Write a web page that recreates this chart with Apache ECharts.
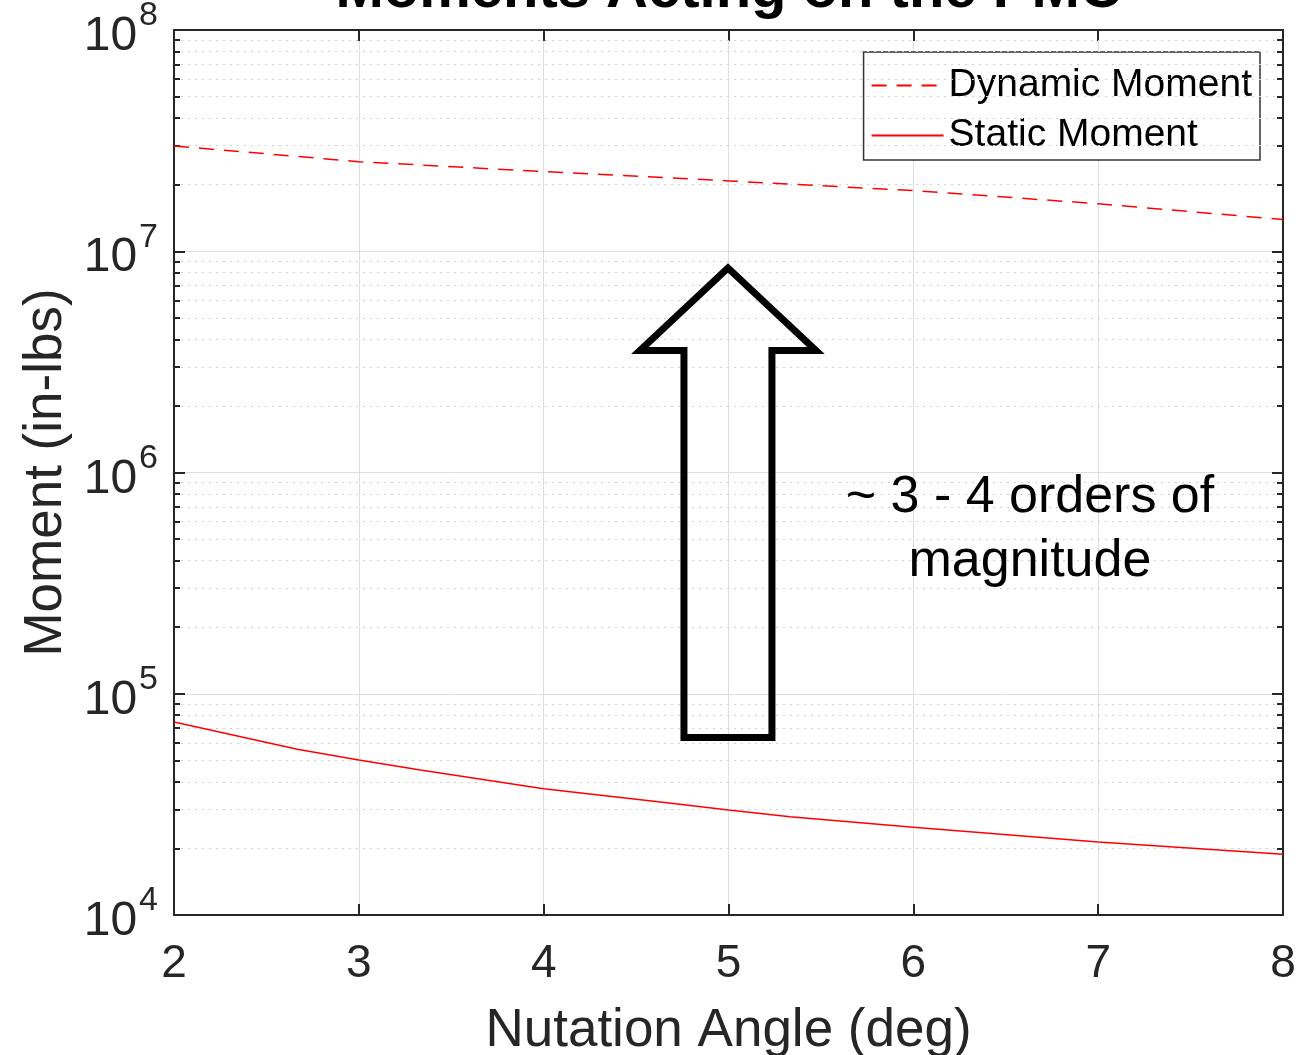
<!DOCTYPE html>
<html>
<head>
<meta charset="utf-8">
<script src="https://cdn.jsdelivr.net/npm/echarts@6/dist/echarts.min.js"></script>
<style>
html,body{margin:0;padding:0;background:#fff;}
#chart{width:1312px;height:1055px;}
</style>
</head>
<body>
<div id="chart"></div>
<script>
// ---- data ----
const dynamicAngles = [2, 3, 4, 5, 6, 7, 8];
const dynamicMoment = [2.99e7, 2.54e7, 2.29e7, 2.08e7, 1.88e7, 1.64e7, 1.39e7];
const staticAngles = [2, 2.667, 3, 3.333, 4, 4.667, 5, 5.333, 6, 7, 8];
const staticMoment = [7.45e4, 5.61e4, 5.02e4, 4.52e4, 3.72e4, 3.22e4, 2.98e4, 2.78e4, 2.49e4, 2.14e4, 1.88e4];
const xTicks = [2, 3, 4, 5, 6, 7, 8];
const yDecades = [4, 5, 6, 7, 8];
const titleText = 'Moments Acting on the PMC';
const xName = 'Nutation Angle (deg)';
const yName = 'Moment (in-lbs)';
const seriesNames = ['Dynamic Moment', 'Static Moment'];
const noteText = '~ 3 - 4 orders of\nmagnitude';

// ---- chart ----
const FONT = '"Liberation Sans", Arial, Helvetica, sans-serif';
const AX = '#262626';
const xMin = 2, xMax = 8;
const chart = echarts.init(document.getElementById('chart'), null, {renderer: 'canvas'});

function pairs(xs, ys) { return xs.map((x, i) => [x, ys[i]]); }

// minor log ticks / grid (2..9 x 10^d)
const minorVals = [];
for (let d = yDecades[0]; d < yDecades[yDecades.length - 1]; d++) {
  for (let k = 2; k <= 9; k++) minorVals.push(k * Math.pow(10, d));
}
const minorTickLen = (xMax - xMin) * 6 / 1109;
const minorGrid = minorVals.map(v => [{coord: [xMin, v]}, {coord: [xMax, v]}]);
const minorTicks = [];
minorVals.forEach(v => {
  minorTicks.push([{coord: [xMin, v]}, {coord: [xMin + minorTickLen, v]}]);
  minorTicks.push([{coord: [xMax - minorTickLen, v]}, {coord: [xMax, v]}]);
});

const option = {
  backgroundColor: '#fff',
  animation: false,
  grid: {left: 174, right: 29, top: 30, bottom: 140, containLabel: false, outerBoundsMode: 'none'},
  legend: {
    orient: 'vertical',
    right: 52,
    top: 52,
    backgroundColor: '#fff',
    borderColor: '#333',
    borderWidth: 1.5,
    borderRadius: 0,
    padding: [14, 8, 5, 7],
    itemWidth: 72,
    itemHeight: 20,
    itemGap: 11,
    itemStyle: {opacity: 0},
    textStyle: {fontFamily: FONT, fontSize: 39, color: '#000'},
    data: seriesNames
  },
  xAxis: [{
    type: 'value', min: xMin, max: xMax, interval: 1,
    name: xName, nameLocation: 'middle', nameGap: 90,
    nameTextStyle: {fontFamily: FONT, fontSize: 53, color: AX},
    axisLine: {show: true, onZero: false, lineStyle: {color: AX, width: 2}},
    axisTick: {show: true, inside: true, length: 11, lineStyle: {color: AX, width: 2}},
    axisLabel: {fontFamily: FONT, fontSize: 46, color: AX, margin: 26,
      formatter: v => xTicks.includes(v) ? String(v) : ''},
    splitLine: {show: true, lineStyle: {color: '#dedede', width: 1}}
  }, {
    type: 'value', min: xMin, max: xMax, interval: 1, position: 'top',
    axisLine: {show: true, onZero: false, lineStyle: {color: AX, width: 2}},
    axisTick: {show: true, inside: true, length: 11, lineStyle: {color: AX, width: 2}},
    axisLabel: {show: false}, splitLine: {show: false}
  }],
  yAxis: [{
    type: 'log', logBase: 10, min: 1e4, max: 1e8, splitNumber: 4,
    name: yName, nameLocation: 'middle', nameGap: 100,
    nameTextStyle: {fontFamily: FONT, fontSize: 53, color: AX},
    axisLine: {show: true, onZero: false, lineStyle: {color: AX, width: 2}},
    axisTick: {show: true, inside: true, length: 11, lineStyle: {color: AX, width: 2}},
    axisLabel: {
      margin: 16,
      formatter: v => {
        const e = Math.round(Math.log10(v));
        return yDecades.includes(e) ? '{h| }{b|10}{s|' + e + '}' : '';
      },
      rich: {
        h: {fontSize: 1, lineHeight: 62, width: 0},
        b: {fontFamily: FONT, fontSize: 48, color: AX, verticalAlign: 'bottom', lineHeight: 48},
        s: {fontFamily: FONT, fontSize: 34, color: AX, verticalAlign: 'top', lineHeight: 34, padding: [0, 0, 0, 2]}
      }
    },
    splitLine: {show: true, lineStyle: {color: '#dedede', width: 1}}
  }, {
    type: 'log', logBase: 10, min: 1e4, max: 1e8, splitNumber: 4, position: 'right',
    axisLine: {show: true, onZero: false, lineStyle: {color: AX, width: 2}},
    axisTick: {show: true, inside: true, length: 11, lineStyle: {color: AX, width: 2}},
    axisLabel: {show: false}, splitLine: {show: false}
  }],
  series: [
    {
      name: seriesNames[0], type: 'line', showSymbol: false, symbol: 'none',
      data: pairs(dynamicAngles, dynamicMoment),
      lineStyle: {color: '#ff0000', width: 1.5, type: [15, 10]},
      itemStyle: {color: '#ff0000'}, z: 5
    },
    {
      name: seriesNames[1], type: 'line', showSymbol: false, symbol: 'none',
      data: pairs(staticAngles, staticMoment),
      lineStyle: {color: '#ff0000', width: 1.5},
      itemStyle: {color: '#ff0000'}, z: 5
    },
    {
      name: 'minor', type: 'line', data: [], silent: true, z: 1,
      markLine: {
        silent: true, symbol: 'none', label: {show: false}, animation: false,
        lineStyle: {color: '#cfcfcf', width: 1.2, type: [2, 5]},
        data: minorGrid
      }
    },
    {
      name: 'minorTicks', type: 'line', data: [], silent: true, z: 6,
      markLine: {
        silent: true, symbol: 'none', label: {show: false}, animation: false,
        lineStyle: {color: AX, width: 2, type: 'solid'},
        data: minorTicks
      }
    }
  ]
};
chart.setOption(option);

// ---- annotation: title, arrow and note (placed from the grid's coordinates) ----
const arrowX = {shaftL: 4.759, shaftR: 5.235, headL: 4.521, headR: 5.473, tip: 4.997};
const arrowY = {tip: 8.4e6, headBase: 3.56e6, bottom: 6.34e4};
const P = (x, y) => chart.convertToPixel({gridIndex: 0}, [x, y]);
const pts = [
  P(arrowX.tip, arrowY.tip),
  P(arrowX.headR, arrowY.headBase),
  P(arrowX.shaftR, arrowY.headBase),
  P(arrowX.shaftR, arrowY.bottom),
  P(arrowX.shaftL, arrowY.bottom),
  P(arrowX.shaftL, arrowY.headBase),
  P(arrowX.headL, arrowY.headBase)
];
const notePos = P(6.631, 5.5e5);
const titleX = P((xMin + xMax) / 2, 1e8)[0];
chart.setOption({
  graphic: [
    {type: 'text', x: titleX, y: -38, z: 10,
      style: {text: titleText, fontFamily: FONT, fontSize: 58, fontWeight: 'bold', fill: '#000', align: 'center', verticalAlign: 'top'}},
    {type: 'polygon', shape: {points: pts}, style: {fill: 'rgba(0,0,0,0)', stroke: '#000', lineWidth: 7, lineJoin: 'miter'}, z: 10},
    {type: 'text', x: notePos[0], y: notePos[1], z: 10,
      style: {text: noteText, fontFamily: FONT, fontSize: 52, lineHeight: 64, fill: '#000', align: 'center', verticalAlign: 'middle'}}
  ]
});
</script>
</body>
</html>
